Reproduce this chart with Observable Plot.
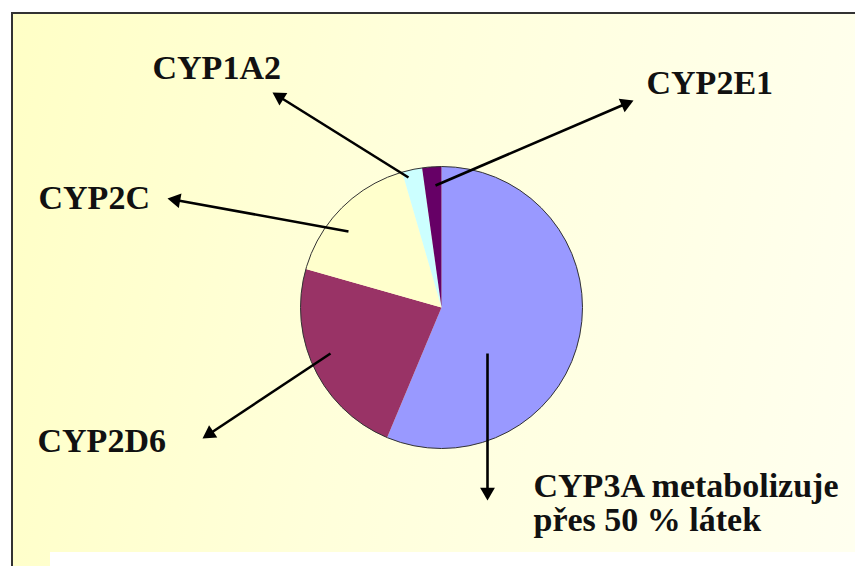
<!DOCTYPE html>
<html>
<head>
<meta charset="utf-8">
<script src="https://cdn.jsdelivr.net/npm/d3@7"></script>
<script src="https://cdn.jsdelivr.net/npm/@observablehq/plot@0.6"></script>
<style>
html, body { margin: 0; padding: 0; background: #fff; }
#wrap { position: relative; width: 855px; height: 566px; overflow: hidden; background: #fff; }
#bg { position: absolute; left: 11px; top: 12px; width: 860px; height: 560px;
      border-left: 2px solid #333; border-top: 2px solid #333;
      background: linear-gradient(100deg, #FFFFC6 0%, #FFFFDA 40%, #FFFFF0 100%); }
#foot { position: absolute; left: 50px; top: 552px; width: 820px; height: 20px; background: #fff; }
#chart { position: absolute; left: 0; top: 0; }
#chart svg text { font-family: "Liberation Serif", "Tinos", "Times New Roman", "DejaVu Serif", serif !important; font-weight: 700; }
</style>
</head>
<body>
<div id="wrap">
  <div id="bg"></div>
  <div id="foot"></div>
  <div id="chart"></div>
</div>
<script>
// ---- data (clockwise from 12 o'clock) ----
const enzymes = ["CYP3A", "CYP2D6", "CYP2C", "CYP1A2", "CYP2E1"];
const shares = [56.3, 23.1, 16.1, 2.3, 2.2];
const sliceColors = ["#9999FF", "#993366", "#FFFFCC", "#CCFFFF", "#660066"];
const labels = ["CYP3A metabolizuje\npřes 50 % látek", "CYP2D6", "CYP2C", "CYP1A2", "CYP2E1"];

// ---- layout (pixel space of the 855x566 page) ----
const W = 855, H = 566;
const cx = 441, cy = 307, R = 141;
const labelAnchor = [[533, 530], [37, 451], [38, 208], [152, 78], [646, 93]];
const arrowTail = [[487, 353], [330, 353], [348, 231], [408, 177], [435, 185]];
const arrowTip  = [[487, 500], [202, 438], [167, 198], [272, 92], [633, 100]];
const headR = 5.5;

// ---- pie slices via d3.pie ----
const arcs = d3.pie().sort(null).value(d => d)(shares);
const slicePts = [];
arcs.forEach((a, i) => {
  const name = enzymes[i];
  slicePts.push({name, x: cx, y: cy});
  const n = Math.max(2, Math.ceil((a.endAngle - a.startAngle) / (Math.PI / 360)));
  for (let k = 0; k <= n; k++) {
    const t = a.startAngle + (a.endAngle - a.startAngle) * k / n;
    slicePts.push({name, x: cx + R * Math.sin(t), y: cy - R * Math.cos(t)});
  }
});

// ---- arrows ----
const arrows = enzymes.map((name, i) => {
  const [x1, y1] = arrowTail[i], [x2, y2] = arrowTip[i];
  const dx = x2 - x1, dy = y2 - y1, L = Math.hypot(dx, dy);
  const ux = dx / L, uy = dy / L;
  const k = headR * Math.sqrt(Math.PI / (3 * Math.sqrt(3)));
  const tipDist = 2 * k, headLen = 3 * k;
  return {
    name, x1, y1,
    x2: x2 - ux * (headLen - 2), y2: y2 - uy * (headLen - 2),
    hx: x2 - ux * tipDist, hy: y2 - uy * tipDist,
    rot: Math.atan2(dx, -dy) * 180 / Math.PI
  };
});

const labelData = enzymes.map((name, i) => ({name, text: labels[i], x: labelAnchor[i][0], y: labelAnchor[i][1]}));

const chart = Plot.plot({
  width: W, height: H,
  marginTop: 0, marginRight: 0, marginBottom: 0, marginLeft: 0,
  x: {domain: [0, W], range: [0, W], axis: null},
  y: {domain: [0, H], range: [0, H], axis: null},
  color: {domain: enzymes, range: sliceColors},
  style: {background: "transparent", overflow: "visible"},
  marks: [
    Plot.line(slicePts, {x: "x", y: "y", z: "name", fill: "name", stroke: null, curve: "linear-closed"}),
    Plot.dot([{x: cx, y: cy}], {x: "x", y: "y", r: R, fill: "none", stroke: "#333", strokeWidth: 1}),
    Plot.link(arrows, {x1: "x1", y1: "y1", x2: "x2", y2: "y2", stroke: "#000", strokeWidth: 2.6}),
    Plot.dot(arrows, {x: "hx", y: "hy", symbol: "triangle", r: headR, rotate: "rot", fill: "#000", stroke: null}),
    Plot.text(labelData, {x: "x", y: "y", text: "text", textAnchor: "start", lineAnchor: "bottom",
      lineHeight: 1, fontSize: 34, fontWeight: "bold", fontFamily: "Liberation Serif", fill: "#111"})
  ]
});
document.getElementById("chart").appendChild(chart);
</script>
</body>
</html>
